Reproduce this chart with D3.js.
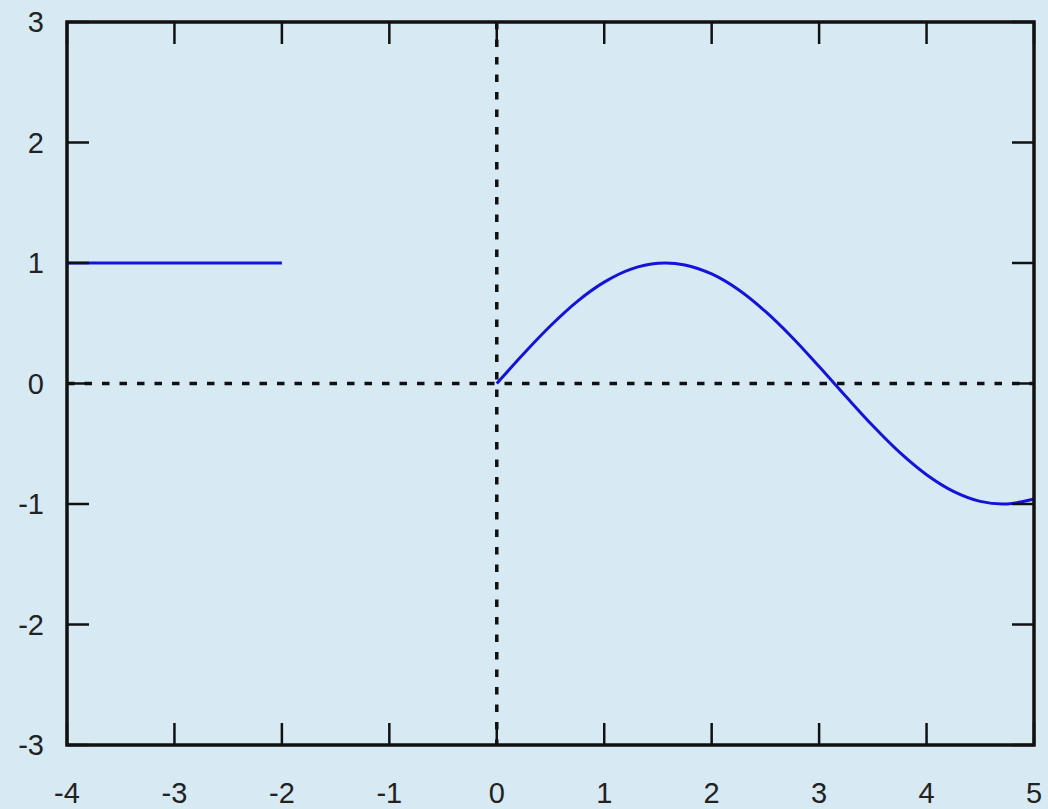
<!DOCTYPE html>
<html><head><meta charset="utf-8">
<script src="https://cdn.jsdelivr.net/npm/d3@7"></script>
<style>html,body{margin:0;padding:0;background:#d7eaf4;}svg{display:block;}</style>
</head><body>
<svg id="c" width="1048" height="809"></svg>
<script>
const xTicks = [-4,-3,-2,-1,0,1,2,3,4,5];
const yTicks = [-3,-2,-1,0,1,2,3];
// flat segment
const flatX = [-4,-2];
const flatY = [1,1];
// curve segment
const curveX = [0,0.25,0.5,0.75,1,1.25,1.5,1.75,2,2.25,2.5,2.75,3,3.25,3.5,3.75,4,4.25,4.5,4.75,5];
const curveY = [0,0.247,0.479,0.682,0.841,0.949,0.997,0.984,0.909,0.778,0.598,0.382,0.141,-0.108,-0.351,-0.572,-0.757,-0.895,-0.978,-0.999,-0.959];

const svg = d3.select('#c');
const L=67,R=1034,T=22,B=745;
const x = d3.scaleLinear().domain([-4,5]).range([L,R]);
const y = d3.scaleLinear().domain([-3,3]).range([B,T]);
const font = '"Liberation Sans", Arial, sans-serif';

// zero lines
svg.append('line').attr('x1',x(-4)).attr('x2',x(5)).attr('y1',y(0)).attr('y2',y(0))
  .attr('stroke','#111').attr('stroke-width',3.5).attr('stroke-dasharray','7.5,10');
svg.append('line').attr('x1',x(0)).attr('x2',x(0)).attr('y1',y(3)).attr('y2',y(-3))
  .attr('stroke','#111').attr('stroke-width',3.5).attr('stroke-dasharray','7.5,10');

const line = d3.line().x(d=>x(d[0])).y(d=>y(d[1])).curve(d3.curveCatmullRom);
svg.append('path').datum(flatX.map((v,i)=>[v,flatY[i]])).attr('d',line)
  .attr('fill','none').attr('stroke','#1414d8').attr('stroke-width',3);
svg.append('path').datum(curveX.map((v,i)=>[v,curveY[i]])).attr('d',line)
  .attr('fill','none').attr('stroke','#1414d8').attr('stroke-width',3);

// ticks (inward, all four sides)
const tl=22;
const tg = svg.append('g').attr('stroke','#111').attr('stroke-width',2.5);
xTicks.forEach(t=>{
  tg.append('line').attr('x1',x(t)).attr('x2',x(t)).attr('y1',B).attr('y2',B-tl);
  tg.append('line').attr('x1',x(t)).attr('x2',x(t)).attr('y1',T).attr('y2',T+tl);
});
yTicks.forEach(t=>{
  tg.append('line').attr('x1',L).attr('x2',L+tl).attr('y1',y(t)).attr('y2',y(t));
  tg.append('line').attr('x1',R).attr('x2',R-tl).attr('y1',y(t)).attr('y2',y(t));
});
// frame
svg.append('rect').attr('x',L).attr('y',T).attr('width',R-L).attr('height',B-T)
  .attr('fill','none').attr('stroke','#111').attr('stroke-width',3.5);

// labels
svg.append('g').selectAll('text').data(xTicks).join('text')
  .attr('x',d=>x(d)).attr('y',803).attr('text-anchor','middle')
  .attr('font-family',font).attr('font-size',29).attr('fill','#222').text(d=>d);
svg.append('g').selectAll('text').data(yTicks).join('text')
  .attr('x',44).attr('y',d=>y(d)).attr('dy','0.36em').attr('text-anchor','end')
  .attr('font-family',font).attr('font-size',29).attr('fill','#222').text(d=>d);
</script>
</body></html>
